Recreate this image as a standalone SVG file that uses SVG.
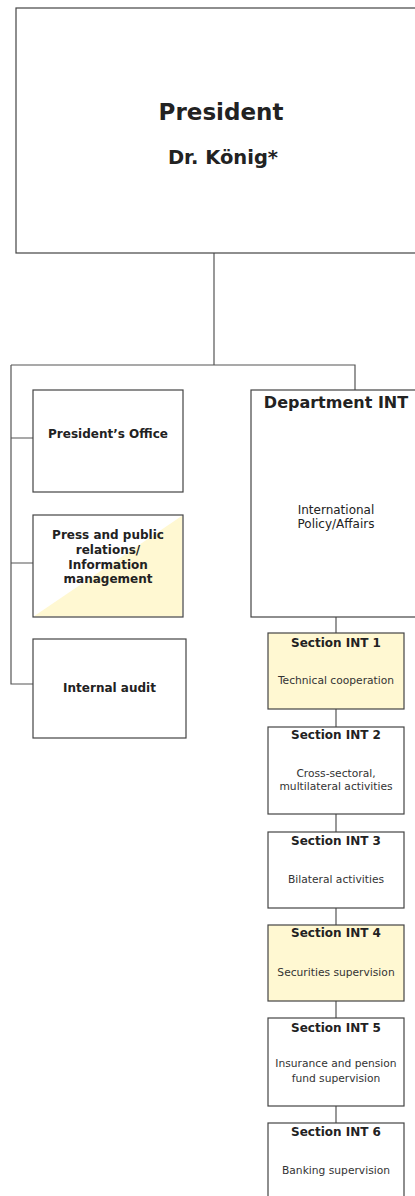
<svg xmlns="http://www.w3.org/2000/svg" width="415" height="1196" viewBox="0 0 415 1196">
<style>
.box{fill:#ffffff;stroke:#444444;stroke-width:1.2}
.yel{fill:#fff8d2;stroke:#444444;stroke-width:1.2}
.tri{fill:#fff8d2;stroke:none}
.ln{fill:none;stroke:#555555;stroke-width:1.2}
text{font-family:"DejaVu Sans","Liberation Sans",sans-serif;fill:#222222;text-anchor:middle}
.b{font-weight:bold}
.t{font-size:12px;font-weight:bold}
.s{font-size:10.7px;fill:#333333}
</style>
<rect width="415" height="1196" fill="#ffffff"/>
<g id="connectors">
<path class="ln" d="M214 253V365M11 365H355V390M11 365V684H33M11 438H33M11 563H33"/>
<path class="ln" d="M336 617V633M336 709V727M336 814V832M336 908V925M336 1001V1018M336 1106V1123"/>
</g>
<g id="president">
<rect class="box" x="16" y="8" width="420" height="245"/>
<text class="b" x="221" y="120" font-size="23">President</text>
<text class="b" x="223" y="164" font-size="19.5">Dr. König*</text>
</g>
<g id="presidents-office">
<rect class="box" x="33" y="390" width="150" height="102"/>
<text class="t" x="108" y="438">President’s Office</text>
</g>
<g id="press">
<rect x="33" y="515" width="150" height="102" fill="#ffffff"/>
<polygon class="tri" points="33.6,616.4 182.4,515.6 182.4,616.4"/>
<rect x="33" y="515" width="150" height="102" fill="none" stroke="#444444" stroke-width="1.2"/>
<text class="t" x="108" y="539">Press and public</text>
<text class="t" x="108" y="554">relations/</text>
<text class="t" x="108" y="569">Information</text>
<text class="t" x="108" y="583">management</text>
</g>
<g id="internal-audit">
<rect class="box" x="33" y="639" width="153" height="99"/>
<text class="t" x="109.5" y="692">Internal audit</text>
</g>
<g id="department-int">
<rect class="box" x="251" y="390" width="200" height="227"/>
<text class="b" x="336" y="408" font-size="16">Department INT</text>
<text x="336" y="514" font-size="12" fill="#333333">International</text>
<text x="336" y="528" font-size="12" fill="#333333">Policy/Affairs</text>
</g>
<g id="section-int-1">
<rect class="yel" x="268" y="633" width="136" height="76"/>
<text class="t" x="336" y="647">Section INT 1</text>
<text class="s" x="336" y="684">Technical cooperation</text>
</g>
<g id="section-int-2">
<rect class="box" x="268" y="727" width="136" height="87"/>
<text class="t" x="336" y="739">Section INT 2</text>
<text class="s" x="336" y="777">Cross-sectoral,</text>
<text class="s" x="336" y="790">multilateral activities</text>
</g>
<g id="section-int-3">
<rect class="box" x="268" y="832" width="136" height="76"/>
<text class="t" x="336" y="845">Section INT 3</text>
<text class="s" x="336" y="883">Bilateral activities</text>
</g>
<g id="section-int-4">
<rect class="yel" x="268" y="925" width="136" height="76"/>
<text class="t" x="336" y="937">Section INT 4</text>
<text class="s" x="336" y="976">Securities supervision</text>
</g>
<g id="section-int-5">
<rect class="box" x="268" y="1018" width="136" height="88"/>
<text class="t" x="336" y="1032">Section INT 5</text>
<text class="s" x="336" y="1067">Insurance and pension</text>
<text class="s" x="336" y="1082">fund supervision</text>
</g>
<g id="section-int-6">
<rect class="box" x="268" y="1123" width="136" height="90"/>
<text class="t" x="336" y="1136">Section INT 6</text>
<text class="s" x="336" y="1174">Banking supervision</text>
</g>
</svg>
